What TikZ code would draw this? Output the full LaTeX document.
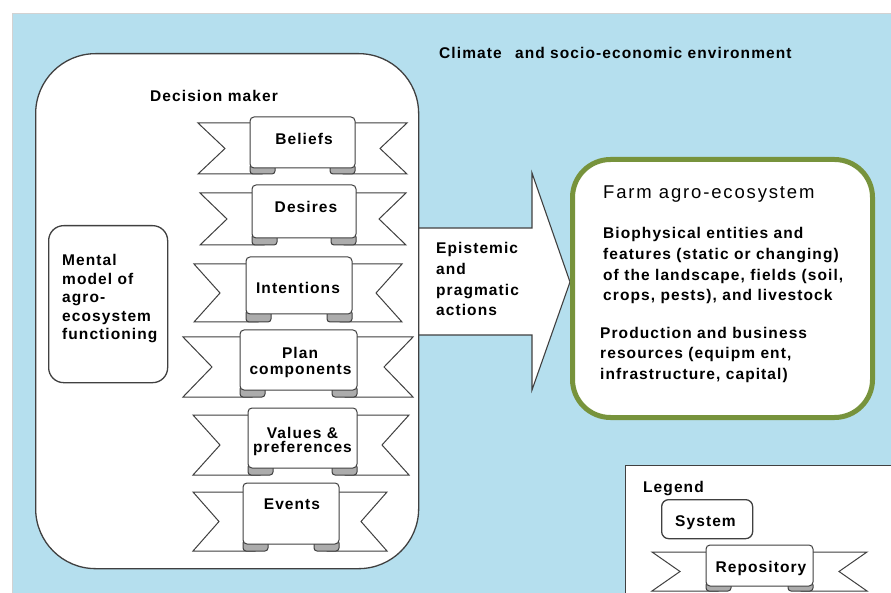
\documentclass[tikz,border=0pt]{standalone}
\usepackage{fontspec}
\setmainfont{Liberation Sans}[LetterSpace=7]
\newfontfamily\titlefont{Liberation Sans}[LetterSpace=10]
\definecolor{envblue}{RGB}{181,223,238}
\definecolor{edgegray}{RGB}{64,64,64}
\definecolor{farmgreen}{RGB}{119,147,60}
\definecolor{foldgray}{RGB}{172,172,172}
\tikzset{
  txt/.style={inner sep=0pt, text=black, font=\fontsize{15.5}{18}\selectfont\bfseries},
  ttl/.style={inner sep=0pt, text=black, font=\titlefont\fontsize{18.5}{21}\selectfont},
  sysbox/.style={draw=edgegray, line width=1.3pt, fill=white, rectangle, inner sep=0pt},
  ribline/.style={draw=edgegray, line width=1pt, fill=white, line join=miter},
  foldpart/.style={draw=edgegray, line width=1pt, fill=foldgray, rounded corners=3pt},
}
% #1 outer left, #2 outer right, #3 notch depth, #4 tail top, #5 tail bottom,
% #6 panel left, #7 panel right, #8 panel top, #9 panel bottom
\newcommand\ribbonshape[9]{%
  \path[ribline] (#1,#4) -- ({#6+12},#4) -- ({#6+12},#5) -- (#1,#5) -- ({#1+#3},{(#4+#5)/2}) -- cycle;
  \path[ribline] (#2,#4) -- ({#7-12},#4) -- ({#7-12},#5) -- (#2,#5) -- ({#2-#3},{(#4+#5)/2}) -- cycle;
  \path[foldpart] (#6,{#9-4}) rectangle ({#6+25},#5);
  \path[foldpart] ({#7-25},{#9-4}) rectangle (#7,#5);
  \path[ribline, rounded corners=4pt] (#6,#8) rectangle (#7,#9);
}
\begin{document}
\begin{tikzpicture}[x=1pt,y=-1pt]
\useasboundingbox (0,0) rectangle (891,593);
\clip (0,0) rectangle (891,593);
\fill[white] (0,0) rectangle (891,593);
\path[fill=envblue, draw=gray!35, line width=1pt] (12,14) rectangle (900,600);

% big arrow (epistemic and pragmatic actions)
\path[fill=white] (418,228) -- (532,228) -- (532,173) -- (570,282) -- (532,390) -- (532,335) -- (418,335) -- cycle;
\draw[edgegray, line width=1.1pt, line join=miter] (418,228) -- (532,228) -- (532,173) -- (570,282) -- (532,390) -- (532,335) -- (418,335);

% decision maker
\node[sysbox, rounded corners=60pt, minimum width=383pt, minimum height=515pt, anchor=north west] (dm) at (35,53) {};
\node[txt, anchor=base west] (dmlabel) at (150,102) {Decision maker};

% mental model
\node[sysbox, rounded corners=15pt, minimum width=119pt, minimum height=157pt, anchor=north west] (mental) at (48,225) {};
\node[txt, anchor=base west] (m1) at (62,266) {Mental};
\node[txt, anchor=base west] (m2) at (62,284.5) {model of};
\node[txt, anchor=base west] (m3) at (62,303) {agro-};
\node[txt, anchor=base west] (m4) at (62,321.5) {ecosystem};
\node[txt, anchor=base west] (m5) at (62,340) {functioning};

% repositories
\ribbonshape{198}{407}{27}{123}{174}{250}{355}{117}{168}
\node[txt, anchor=base] (beliefs) at (304,145) {Beliefs};
\ribbonshape{200}{406}{27}{193}{245}{252}{356}{185}{238}
\node[txt, anchor=base] (desires) at (306,213) {Desires};
\ribbonshape{194}{402}{26}{264}{322}{246}{352}{257}{314}
\node[txt, anchor=base] (intentions) at (298,294) {Intentions};
\ribbonshape{183}{413}{29}{337}{397}{240}{357}{330}{390}
\node[txt, anchor=base] (plan1) at (300,359) {Plan};
\node[txt, anchor=base] (plan2) at (300.5,374) {components};
\ribbonshape{193}{409}{27}{415}{475}{248}{357}{408}{468}
\node[txt, anchor=base] (val1) at (302.5,438) {Values \&};
\node[txt, anchor=base] (val2) at (302.5,452) {preferences};
\ribbonshape{193}{387}{26}{492}{551}{243}{339}{483}{544}
\node[txt, anchor=base] (events) at (292,509) {Events};

% arrow label
\node[txt, anchor=base west] (a1) at (436,254) {Epistemic};
\node[txt, anchor=base west] (a2) at (436,275) {and};
\node[txt, anchor=base west] (a3) at (436,296) {pragmatic};
\node[txt, anchor=base west] (a4) at (436,316) {actions};

% environment label
\node[txt, anchor=base west] (env) at (439,59) {Climate\hspace{8pt} and socio-economic environment};

% farm agro-ecosystem
\node[draw=farmgreen, line width=5pt, fill=white, rectangle, rounded corners=38pt, minimum width=300pt, minimum height=258pt, anchor=north west, inner sep=0pt] (farm) at (570,157) {};
\node[ttl, anchor=base west] (f0) at (603,199) {Farm agro-ecosystem};
\node[txt, anchor=base west] (f1) at (603,239) {Biophysical entities and};
\node[txt, anchor=base west] (f2) at (603,260) {features (static or changing)};
\node[txt, anchor=base west] (f3) at (603,281) {of the landscape, fields (soil,};
\node[txt, anchor=base west] (f4) at (603,301) {crops, pests), and livestock};
\node[txt, anchor=base west] (f5) at (600,338) {Production and business};
\node[txt, anchor=base west] (f6) at (600,359) {resources (equipm ent,};
\node[txt, anchor=base west] (f7) at (600,379) {infrastructure, capital)};

% legend
\node[draw=edgegray, line width=1.3pt, fill=white, rectangle, minimum width=280pt, minimum height=140pt, anchor=north west, inner sep=0pt] (legend) at (625,465) {};
\node[txt, anchor=base west] (legendlabel) at (643,492) {Legend};
\node[sysbox, rounded corners=7pt, minimum width=91pt, minimum height=39pt, anchor=north west] (system) at (661,499) {};
\node[txt, anchor=base] (systemlabel) at (705.5,526) {System};
\ribbonshape{652}{867}{28}{552}{591}{706}{813}{545}{586}
\node[txt, anchor=base] (repository) at (761,572) {Repository};
\end{tikzpicture}
\end{document}
